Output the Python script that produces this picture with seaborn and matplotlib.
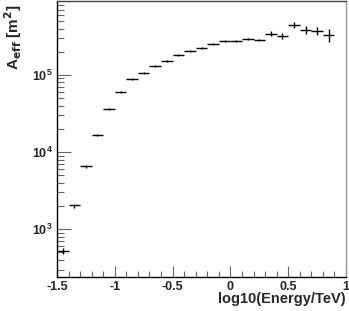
import numpy as np
import matplotlib
matplotlib.use("Agg")
import matplotlib.pyplot as plt
import matplotlib.ticker as mticker
import seaborn as sns

# bin centres in log10(E/TeV), width 0.1
log_e = [-1.45, -1.35, -1.25, -1.15, -1.05, -0.95, -0.85, -0.75, -0.65, -0.55,
         -0.45, -0.35, -0.25, -0.15, -0.05, 0.05, 0.15, 0.25, 0.35, 0.45,
         0.55, 0.65, 0.75, 0.85]
a_eff = [518, 2030, 6520, 16600, 36100, 60100, 89500, 107000, 132000, 152000,
         182000, 205000, 226000, 253000, 277000, 277000, 294000, 285000, 344000, 321000,
         446000, 384000, 376000, 331000]
a_err = [47, 120, 260, 500, 1100, 1800, 2700, 3200, 4000, 4600,
         5500, 6200, 7900, 8900, 9700, 9700, 11800, 11400, 27500, 25700,
         35700, 42000, 45000, 60000]
half_width = [0.05] * len(log_e)

sns.set_style("white")
plt.rcParams['font.family'] = ['Liberation Sans', 'DejaVu Sans']
plt.rcParams['font.weight'] = 'bold'
plt.rcParams['mathtext.default'] = 'bf'

fig = plt.figure(figsize=(3.49, 3.11), dpi=100)
ax = fig.add_axes([57 / 349, 1 - 277 / 311, 289 / 349, 276 / 311])

ax.errorbar(log_e, a_eff, xerr=half_width, yerr=a_err, fmt='none',
            ecolor='black', elinewidth=1.0, capsize=0)

ax.set_yscale('log')
ax.set_xlim(-1.5, 1.0)
ax.set_ylim(240, 9.1e5)

ax.xaxis.set_major_locator(mticker.MultipleLocator(0.5))
ax.xaxis.set_minor_locator(mticker.MultipleLocator(0.1))
ax.xaxis.set_major_formatter(mticker.FuncFormatter(lambda v, p: f"{v:g}"))
ax.yaxis.set_major_locator(mticker.LogLocator(base=10, numticks=10))
ax.yaxis.set_minor_locator(mticker.LogLocator(base=10, subs=np.arange(2, 10), numticks=10))
ax.yaxis.set_minor_formatter(mticker.NullFormatter())

ax.tick_params(axis='both', which='both', direction='in', color='#666666',
               labelsize=9, bottom=True, left=True, top=False, right=False, width=0.8)
ax.tick_params(axis='y', which='major', length=10, pad=3)
ax.tick_params(axis='y', which='minor', length=5)
ax.tick_params(axis='x', which='major', length=8, pad=3)
ax.tick_params(axis='x', which='minor', length=4)

for side in ['left', 'bottom']:
    ax.spines[side].set_color('black')
    ax.spines[side].set_linewidth(1.0)
ax.spines['top'].set_color('#444444')
ax.spines['right'].set_color('#999999')
ax.spines['top'].set_linewidth(1.0)
ax.spines['right'].set_linewidth(1.0)

ax.set_xlabel('log10(Energy/TeV)', fontsize=10.5, fontweight='bold', loc='right')
ax.xaxis.set_label_coords(1.0, -0.056)
ax.set_ylabel(r'A$_{\rm eff}$ [m$^{2}$]', fontsize=11, fontweight='bold', loc='top')
ax.yaxis.set_label_coords(-0.115, 0.988)

fig.savefig('out.png', dpi=100)
